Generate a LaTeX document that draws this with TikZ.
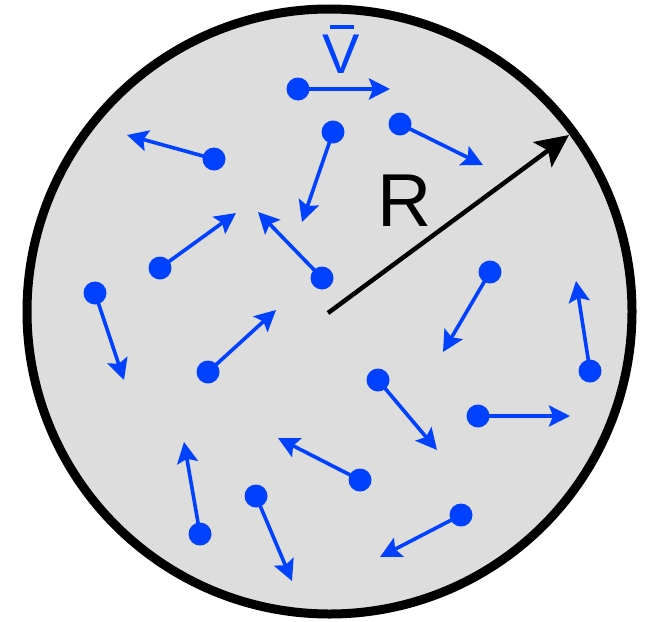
\documentclass[tikz,border=0pt]{standalone}
\usepackage{fontspec}
\setmainfont{Liberation Sans}
\usetikzlibrary{arrows.meta}
\definecolor{pblue}{RGB}{0,64,255}
\definecolor{pgray}{RGB}{221,221,221}
\tikzset{
  dot/.style={circle,fill=pblue,inner sep=0pt,minimum size=23pt},
  vel/.style={draw=pblue,line width=3.6pt,-{Stealth[length=21pt,width=21pt,inset=4pt]}},
}
\begin{document}
\begin{tikzpicture}[x=1pt,y=-1pt]
\useasboundingbox (0,0) rectangle (647,621);
\draw[line width=9pt,fill=pgray] (329.5,311.5) circle[radius=302.5pt];
\coordinate (c) at (328,313);
\coordinate (rt) at (569,135);
\draw[line width=4.5pt,-{Stealth[length=33pt,width=31pt,inset=7pt]}] (c) -- (rt);
\node[anchor=base,inner sep=0pt] (R) at (405,226) {\fontsize{75}{75}\selectfont R};
\node[text=pblue,anchor=base,inner sep=0pt] (vlab) at (341.5,73) {\fontsize{56}{56}\selectfont\ooalign{V\cr\hidewidth\raisebox{44pt}{\rule{24pt}{4pt}}\hidewidth\cr}};
\foreach \i/\dx/\dy/\tx/\ty in {
 1/298/89/390/89, 2/214/159/127/135, 3/333/132/302/222, 4/400/124/483/165,
 5/160/268/236/213, 6/322/278/258/212, 7/95/293/124/380, 8/208/372/276/310,
 9/490/272/443/352, 10/590/371/576/281, 11/378/380/437/450, 12/478/416/570/416,
 13/360/480/278/438, 14/200/534/184/442, 15/256/496/292/581, 16/461/515/380/557}{
  \node[dot] (p\i) at (\dx,\dy) {};
  \coordinate (t\i) at (\tx,\ty);
  \draw[vel] (p\i.center) -- (t\i);
}
\end{tikzpicture}
\end{document}
